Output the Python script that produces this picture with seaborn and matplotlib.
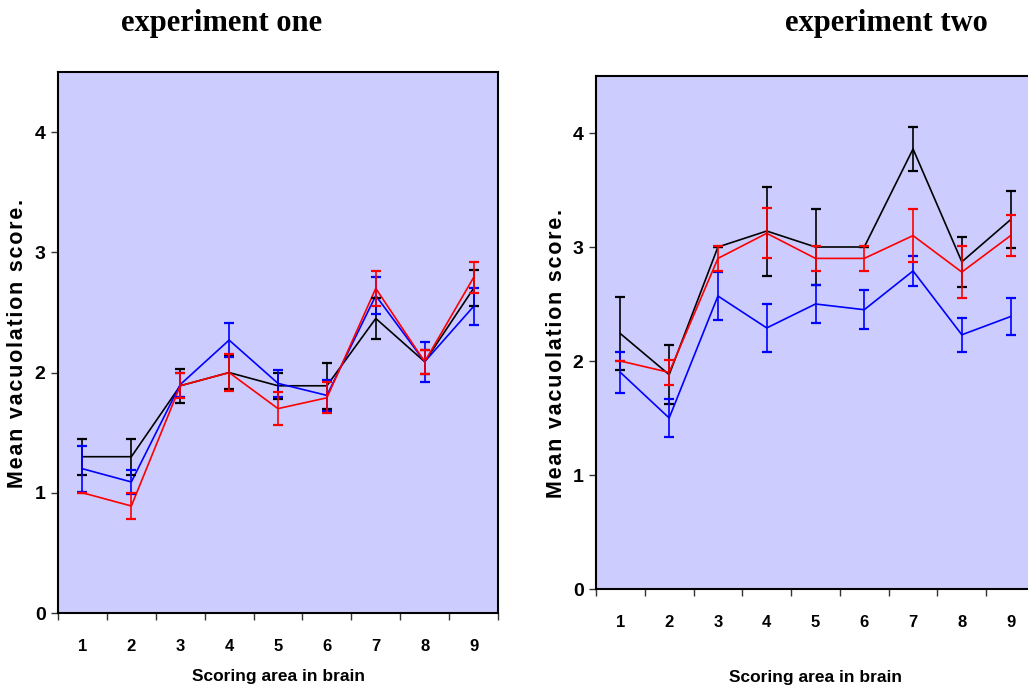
import matplotlib
matplotlib.use("Agg")
import matplotlib.pyplot as plt
from matplotlib.ticker import FixedLocator, NullFormatter
import numpy as np
import pandas as pd
import seaborn as sns

# Scoring areas in the brain
areas = [1, 2, 3, 4, 5, 6, 7, 8, 9]
group_names = ["A", "B", "C"]
group_colors = {"A": "#000000", "B": "#0000FF", "C": "#FF0000"}

# Experiment one: mean vacuolation score and SEM per area
exp1_a_mean = [1.30, 1.30, 1.89, 2.00, 1.89, 1.89, 2.45, 2.09, 2.70]
exp1_a_err = [0.15, 0.15, 0.14, 0.14, 0.11, 0.19, 0.17, 0.10, 0.15]
exp1_b_mean = [1.20, 1.09, 1.90, 2.27, 1.91, 1.81, 2.64, 2.09, 2.55]
exp1_b_err = [0.19, 0.10, 0.10, 0.14, 0.11, 0.13, 0.155, 0.165, 0.155]
exp1_c_mean = [1.00, 0.89, 1.89, 2.00, 1.70, 1.79, 2.70, 2.09, 2.79]
exp1_c_err = [0.00, 0.105, 0.105, 0.155, 0.14, 0.13, 0.145, 0.10, 0.13]

# Experiment two
exp2_a_mean = [2.24, 1.88, 3.00, 3.14, 3.00, 3.00, 3.86, 2.87, 3.24]
exp2_a_err = [0.32, 0.26, 0.00, 0.39, 0.33, 0.00, 0.19, 0.22, 0.25]
exp2_b_mean = [1.90, 1.50, 2.57, 2.29, 2.50, 2.45, 2.79, 2.23, 2.39]
exp2_b_err = [0.18, 0.17, 0.21, 0.21, 0.17, 0.17, 0.13, 0.15, 0.16]
exp2_c_mean = [2.00, 1.90, 2.90, 3.12, 2.90, 2.90, 3.10, 2.78, 3.10]
exp2_c_err = [0.00, 0.11, 0.11, 0.22, 0.11, 0.11, 0.23, 0.23, 0.18]

y_ticks = [0, 1, 2, 3, 4]
titles = ["experiment one", "experiment two"]
x_label = "Scoring area in brain"
y_label_words = ["Mean", "vacuolation", "score."]

# letter-spaced axis title (hair spaces between letters)
HAIR = "\u200a"
y_label = (HAIR + " " + HAIR).join(HAIR.join(w) for w in y_label_words)


def build_frame(means, errs):
    rows = []
    for g, m, e in zip(group_names, means, errs):
        for a, mv, ev in zip(areas, m, e):
            rows.append({"area": a, "score": mv, "sem": ev, "group": g})
    return pd.DataFrame(rows)


df1 = build_frame([exp1_a_mean, exp1_b_mean, exp1_c_mean],
                  [exp1_a_err, exp1_b_err, exp1_c_err])
df2 = build_frame([exp2_a_mean, exp2_b_mean, exp2_c_mean],
                  [exp2_a_err, exp2_b_err, exp2_c_err])

sns.set_theme(style="ticks")
sans = ["Liberation Sans", "DejaVu Sans"]
serif = ["Liberation Serif", "DejaVu Serif"]
plt.rcParams["font.family"] = sans
plt.rcParams["text.color"] = "black"
plt.rcParams["axes.labelcolor"] = "black"
plt.rcParams["xtick.color"] = "#333333"
plt.rcParams["ytick.color"] = "#333333"
plt.rcParams["xtick.labelcolor"] = "black"
plt.rcParams["ytick.labelcolor"] = "black"

W, H = 1028, 691
fig = plt.figure(figsize=(W / 100, H / 100), dpi=100)
fig.patch.set_facecolor("white")

# axes rectangles in pixels: left, top, right, bottom
rects = [(58, 72, 498, 613), (596, 76, 1035, 589)]
label_pos = [(-0.118, 18, 0.499), (-0.173, 556, 0.46)]


def draw_panel(ax, df, xlab_y, ylab):
    ax.set_facecolor("#CCCCFF")
    sns.lineplot(data=df, x="area", y="score", hue="group", palette=group_colors,
                 hue_order=group_names, linewidth=1.2, legend=False, ax=ax,
                 errorbar=None, sort=False, zorder=3)
    for g in group_names:
        sub = df[df["group"] == g]
        ax.errorbar(sub["area"], sub["score"], yerr=sub["sem"], fmt="none",
                    ecolor=group_colors[g], elinewidth=1.2, capsize=3.8,
                    capthick=1.6, zorder=3)
    ax.set_xlim(0.5, 9.5)
    ax.set_ylim(0, 4.5)
    ax.set_yticks(y_ticks)
    ax.set_yticklabels([str(t) for t in y_ticks], fontsize=14, fontweight="bold")
    ax.set_xticks(areas)
    ax.set_xticklabels([str(a) for a in areas], fontsize=12, fontweight="bold")
    ax.xaxis.set_minor_locator(FixedLocator(np.arange(0.5, 10, 1.0)))
    ax.xaxis.set_minor_formatter(NullFormatter())
    ax.tick_params(axis="x", which="major", length=0, pad=19)
    ax.tick_params(axis="x", which="minor", length=5, width=1.0, direction="out")
    ax.tick_params(axis="y", which="major", length=5, width=1.0,
                   direction="out", pad=4)
    for s in ax.spines.values():
        s.set_visible(True)
        s.set_color("black")
        s.set_linewidth(1.5)
    ax.grid(False)
    ax.set_xlabel(x_label, fontsize=12.5, fontweight="bold")
    ax.xaxis.label.set_va("center")
    ax.xaxis.set_label_coords(0.5, xlab_y)
    ax.set_ylabel(ylab, fontsize=15.5, fontweight="bold")
    ax.yaxis.label.set_va("center")


axes = []
for (l, t, r, b) in rects:
    ax = fig.add_axes([l / W, 1 - b / H, (r - l) / W, (b - t) / H])
    axes.append(ax)

draw_panel(axes[0], df1, label_pos[0][0], y_label)
draw_panel(axes[1], df2, label_pos[1][0], y_label)

for ax, (l, t, r, b), (_, lx, ly) in zip(axes, rects, label_pos):
    ax.yaxis.set_label_coords((lx - l) / (r - l), ly)

fig.text(222 / W, 1 - 24 / H, titles[0], ha="center", va="center",
         fontsize=22, fontweight="bold", family=serif)
fig.text(886 / W, 1 - 24 / H, titles[1], ha="center", va="center",
         fontsize=22, fontweight="bold", family=serif)

fig.savefig("out.png", dpi=100, facecolor="white")
